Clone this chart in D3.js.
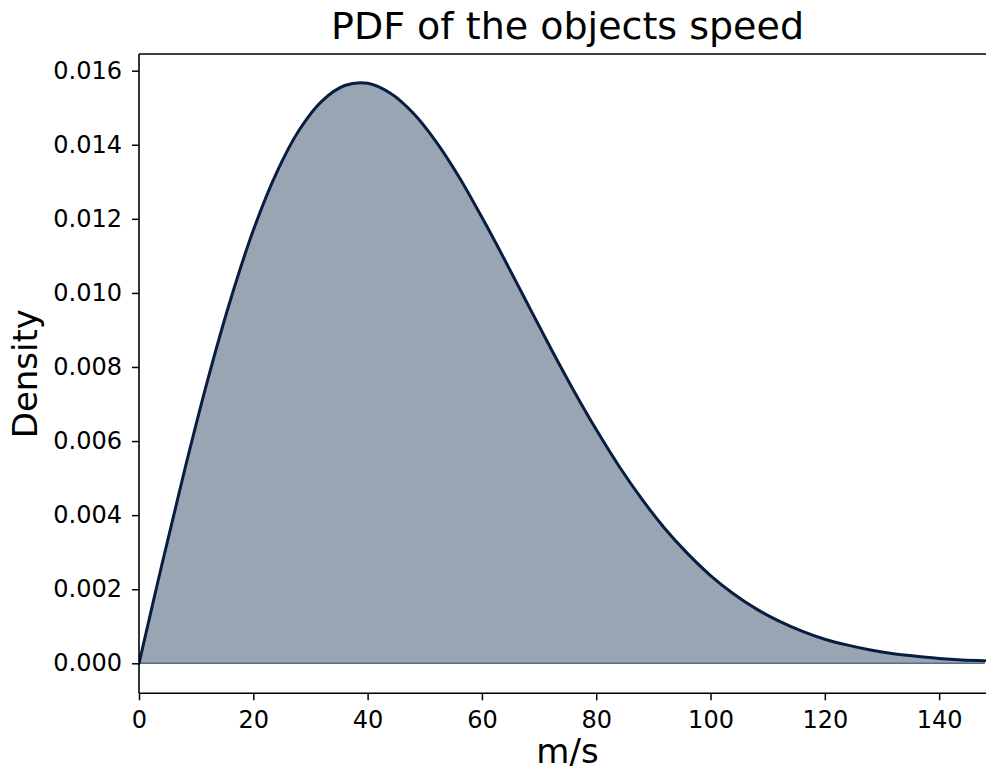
<!DOCTYPE html>
<html>
<head>
<meta charset="utf-8">
<script src="https://cdn.jsdelivr.net/npm/d3@7"></script>
<style>
  html, body { margin: 0; padding: 0; background: #ffffff; }
  svg { display: block; }
  text { font-family: "DejaVu Sans", sans-serif; fill: #000; }
</style>
</head>
<body>
<svg id="chart" width="986" height="771"></svg>
<script>
// ---- data ----
const speeds = [0,4,8,12,16,20,24,28,32,36,40,44,48,52,56,60,64,68,72,76,80,84,88,92,96,100,104,108,112,116,120,124,128,132,136,140,144,148];
const densities = [0,0.00266,0.00523,0.00764,0.00981,0.01169,0.01322,0.01439,0.01518,0.01560,0.01566,0.01539,0.01485,0.01408,0.01313,0.01204,0.01089,0.00970,0.00852,0.00738,0.00631,0.00532,0.00443,0.00364,0.00296,0.00237,0.00188,0.00147,0.00114,0.00087,0.00065,0.00049,0.00036,0.00026,0.00019,0.00013,0.00009,0.00007];
const xTicks = [0,20,40,60,80,100,120,140];
const yTicks = [0,0.002,0.004,0.006,0.008,0.010,0.012,0.014,0.016];
const titleText = "PDF of the objects speed";
const xLabel = "m/s";
const yLabel = "Density";

// ---- layout ----
// the axes run slightly past the right edge of the picture (cropped figure)
const mLeft = 139, mRight = 996, mTop = 54, mBottom = 693.3;
const svg = d3.select("#chart");

const x = d3.scaleLinear().domain([0, 148.2]).range([mLeft, 986]);
const y = d3.scaleLinear().domain([-0.00081, 0.01645]).range([mBottom, mTop]);

const data = speeds.map((s, i) => ({ s, d: densities[i] }));

// clip to axes
svg.append("defs").append("clipPath").attr("id", "clip")
  .append("rect").attr("x", mLeft).attr("y", mTop).attr("width", mRight - mLeft).attr("height", mBottom - mTop);

const plot = svg.append("g").attr("clip-path", "url(#clip)");

const curve = d3.curveCatmullRom.alpha(0.5);
const area = d3.area().x(d => x(d.s)).y0(y(0)).y1(d => y(d.d)).curve(curve);
const line = d3.line().x(d => x(d.s)).y(d => y(d.d)).curve(curve);

plot.append("path").datum(data).attr("d", area)
  .attr("fill", "#031e41").attr("fill-opacity", 0.4).attr("stroke", "none");

// baseline edge of fill
plot.append("line")
  .attr("x1", x(speeds[0])).attr("x2", x(speeds[speeds.length - 1]))
  .attr("y1", y(0)).attr("y2", y(0))
  .attr("stroke", "#5b6e88").attr("stroke-width", 1.6);

plot.append("path").datum(data).attr("d", line)
  .attr("fill", "none").attr("stroke", "#081d42").attr("stroke-width", 3)
  .attr("stroke-linejoin", "round").attr("stroke-linecap", "round");

// axes
const xAxis = d3.axisBottom(x).tickValues(xTicks).tickFormat(d3.format("d")).tickSize(7).tickPadding(11);
const yAxis = d3.axisLeft(y).tickValues(yTicks).tickFormat(d3.format(".3f")).tickSize(7).tickPadding(10);

const gx = svg.append("g").attr("transform", `translate(0,${mBottom})`).call(xAxis);
const gy = svg.append("g").attr("transform", `translate(${mLeft},0)`).call(yAxis);

[gx, gy].forEach(g => {
  g.select(".domain").remove();
  g.selectAll(".tick line").attr("stroke", "#000").attr("stroke-width", 1.5);
  g.selectAll(".tick text").attr("font-size", 24).attr("font-family", "DejaVu Sans").attr("fill", "#000");
});

// spines: left, bottom, top
svg.append("line").attr("x1", mLeft).attr("x2", mLeft).attr("y1", mTop).attr("y2", mBottom)
  .attr("stroke", "#000").attr("stroke-width", 1.6);
svg.append("line").attr("x1", mLeft).attr("x2", mRight).attr("y1", mBottom).attr("y2", mBottom)
  .attr("stroke", "#000").attr("stroke-width", 1.6);
svg.append("line").attr("x1", mLeft).attr("x2", mRight).attr("y1", mTop).attr("y2", mTop)
  .attr("stroke", "#000").attr("stroke-width", 1.6);

// title and labels
const cx = (mLeft + mRight) / 2;
svg.append("text").attr("x", cx).attr("y", 39)
  .attr("text-anchor", "middle").attr("font-size", 38).text(titleText);

svg.append("text").attr("x", cx).attr("y", 763)
  .attr("text-anchor", "middle").attr("font-size", 34).text(xLabel);

svg.append("text").attr("transform", `translate(37,${(mTop + mBottom) / 2}) rotate(-90)`)
  .attr("text-anchor", "middle").attr("font-size", 34).text(yLabel);
</script>
</body>
</html>
